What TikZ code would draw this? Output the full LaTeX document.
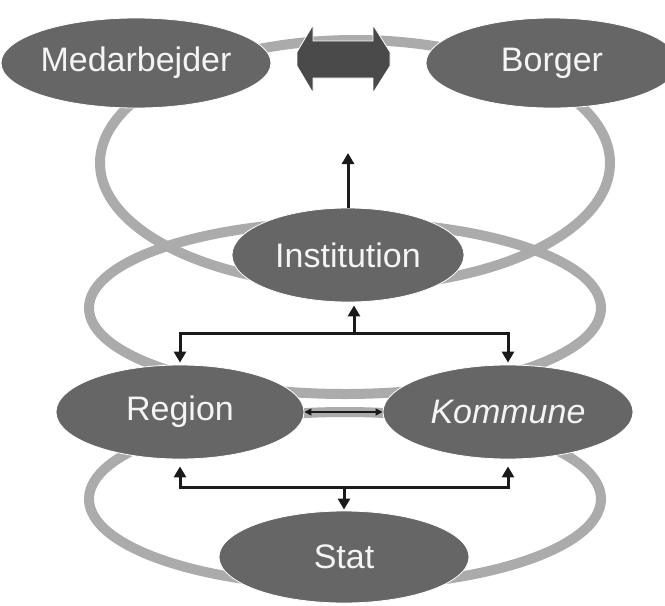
\documentclass[tikz,border=0pt]{standalone}
\usepackage{fontspec}
\setmainfont{Liberation Sans}
\usetikzlibrary{shapes.geometric,arrows.meta}
\definecolor{ellgray}{HTML}{666666}
\definecolor{ringgray}{HTML}{ABABAB}
\definecolor{blockgray}{HTML}{4A4A4A}
\definecolor{txtwhite}{HTML}{F4F4F4}
\definecolor{arrblack}{HTML}{1A1A1A}
\tikzset{
  ell/.style={ellipse, fill=ellgray, draw=white, line width=0.8pt, inner sep=0pt,
    minimum width=250pt, minimum height=92pt, text=txtwhite, font=\fontsize{34}{34}\selectfont},
  ring/.style={draw=ringgray, line width=10pt},
  arr/.style={draw=arrblack, line width=3pt, -{Triangle[length=11pt,width=12pt]}},
  thinarr/.style={draw=arrblack, line width=1.4pt, {Triangle[length=7pt,width=7pt]}-{Triangle[length=7pt,width=7pt]}},
}
\begin{document}
\begin{tikzpicture}[x=1pt,y=-1pt]
\useasboundingbox (0,0) rectangle (665,606);
% rings
\draw[ring] (355,163) ellipse [x radius=255pt, y radius=123pt];
\draw[ring] (345,308) ellipse [x radius=256pt, y radius=86pt];
\draw[ring] (345,499) ellipse [x radius=256pt, y radius=87pt];
% block double arrow
\fill[blockgray, draw=white, line width=0.8pt]
  (313,25) -- (297,52) -- (297,66) -- (313,93) -- (313,78) -- (373,78) -- (373,93)
  -- (390,66) -- (390,52) -- (373,25) -- (373,41) -- (313,41) -- cycle;
% nodes
\node[ell, minimum width=252pt, minimum height=90pt] (med) at (136,63) {Medarbejder};
\node[ell, minimum width=252pt, minimum height=90pt] (bor) at (552,63) {Borger};
\node[ell, minimum width=232pt, minimum height=94pt] (inst) at (348,255) {Institution};
\node[ell, minimum width=248pt, minimum height=94pt] (reg) at (180,412) {Region};
\node[ell, minimum width=250pt, minimum height=94pt] (kom) at (508,412) {\itshape Kommune};
\node[ell, minimum width=250pt, minimum height=92pt] (stat) at (344,557) {Stat};
% connectors
\coordinate (up) at (348,153);
\draw[arr] (inst.north) -- (up);
\coordinate (jt) at (354,333);
\draw[arr, shorten >=3pt] (jt) -- (jt |- inst.south);
\draw[arr, shorten >=2pt] (jt) -| (reg.north);
\draw[arr, shorten >=2pt] (jt) -| (kom.north);
\draw[thinarr] (reg.east) -- (kom.west);
\coordinate (jb) at (344,487);
\draw[arr, shorten >=1pt] (jb) -- (stat.north);
\draw[arr, shorten >=7pt] (jb) -| (reg.south);
\draw[arr, shorten >=7pt] (jb) -| (kom.south);
\end{tikzpicture}
\end{document}
